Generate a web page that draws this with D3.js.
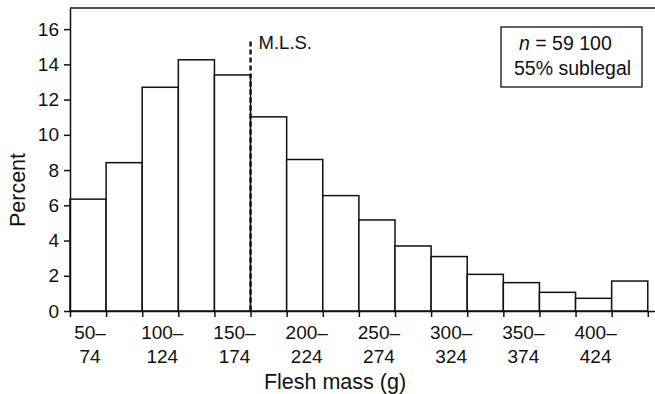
<!DOCTYPE html>
<html>
<head>
<meta charset="utf-8">
<script src="https://cdn.jsdelivr.net/npm/d3@7"></script>
<style>
  body { margin: 0; background: #fff; }
  text { font-family: "Liberation Sans", Arial, sans-serif; fill: #111; }
</style>
</head>
<body>
<div id="chart"></div>
<script>
// flesh mass bins (g), lower bound of each 25 g class
const binStarts = [50, 75, 100, 125, 150, 175, 200, 225, 250, 275, 300, 325, 350, 375, 400, 425];
const binWidth = 25;
const percents = [6.35, 8.42, 12.7, 14.26, 13.4, 11.02, 8.6, 6.55, 5.17, 3.69, 3.09, 2.08, 1.61, 1.06, 0.72, 1.70];
const binLabels = ["50–74", "", "100–124", "", "150–174", "", "200–224", "", "250–274", "", "300–324", "", "350–374", "", "400–424", ""];
const yTicks = [0, 2, 4, 6, 8, 10, 12, 14, 16];
const mls = 175;        // minimum legal size
const mlsTop = 15.3;    // top of dashed marker
const boxLines = ["n = 59 100", "55% sublegal"];

const width = 655, height = 394;
const margin = { top: 8, left: 70, bottom: 83 };

const svg = d3.select("#chart").append("svg")
  .attr("width", width)
  .attr("height", height);

const x = d3.scaleLinear().domain([50, 455]).range([margin.left, width]);
const y = d3.scaleLinear().domain([0, 17.2]).range([height - margin.bottom, margin.top]);

// bars
svg.selectAll(".bar")
  .data(binStarts)
  .enter()
  .append("rect")
  .attr("class", "bar")
  .attr("x", (d) => x(d))
  .attr("y", (d, i) => y(percents[i]))
  .attr("width", (d) => x(d + binWidth) - x(d))
  .attr("height", (d, i) => y(0) - y(percents[i]))
  .attr("fill", "#fff")
  .attr("stroke", "#111")
  .attr("stroke-width", 1.5);

// M.L.S. marker
svg.append("line")
  .attr("x1", x(mls)).attr("x2", x(mls))
  .attr("y1", y(mlsTop)).attr("y2", y(0))
  .attr("stroke", "#111")
  .attr("stroke-width", 2.4)
  .attr("stroke-dasharray", "5,3");

svg.append("text")
  .attr("x", x(mls) + 8)
  .attr("y", y(mlsTop) + 8)
  .attr("font-size", 18.5)
  .text("M.L.S.");

// axes
const edges = binStarts.concat([binStarts[binStarts.length - 1] + binWidth]);
const xAxis = svg.append("g")
  .attr("transform", `translate(0,${y(0)})`)
  .call(d3.axisBottom(x).tickValues(edges).tickSize(6).tickSizeOuter(0).tickFormat(""));

const yAxis = svg.append("g")
  .attr("transform", `translate(${margin.left},0)`)
  .call(d3.axisLeft(y).tickValues(yTicks).tickSize(6).tickSizeOuter(0).tickPadding(5));

svg.selectAll(".domain, .tick line")
  .attr("stroke", "#111")
  .attr("stroke-width", 1.5);

yAxis.selectAll(".tick text")
  .attr("font-size", 19)
  .attr("font-family", "Liberation Sans, Arial, sans-serif")
  .attr("fill", "#111");

// top frame line
svg.append("line")
  .attr("x1", margin.left).attr("x2", width)
  .attr("y1", y.range()[1]).attr("y2", y.range()[1])
  .attr("stroke", "#111")
  .attr("stroke-width", 1.5);

// x tick labels (two lines, centred under bins)
const lab = svg.selectAll(".xlab")
  .data(binStarts.filter((d, i) => binLabels[i] !== ""))
  .enter()
  .append("text")
  .attr("class", "xlab")
  .attr("text-anchor", "middle")
  .attr("font-size", 19);

lab.each(function (d) {
  const parts = binLabels[binStarts.indexOf(d)].split("–");
  const cx = x(d + binWidth / 2) + 2;
  d3.select(this).append("tspan").attr("x", cx).attr("y", y(0) + 28).text(parts[0] + "–");
  d3.select(this).append("tspan").attr("x", cx).attr("y", y(0) + 52).text(parts[1]);
});

// axis titles
svg.append("text")
  .attr("x", 335)
  .attr("y", 389)
  .attr("text-anchor", "middle")
  .attr("font-size", 21.5)
  .text("Flesh mass (g)");

svg.append("text")
  .attr("transform", "translate(25,190) rotate(-90)")
  .attr("text-anchor", "middle")
  .attr("font-size", 21.5)
  .text("Percent");

// info box
svg.append("rect")
  .attr("x", 501).attr("y", 27)
  .attr("width", 141).attr("height", 60)
  .attr("fill", "#fff")
  .attr("stroke", "#111")
  .attr("stroke-width", 1.3);

const l1 = svg.append("text").attr("x", 519).attr("y", 50).attr("font-size", 19.5);
l1.append("tspan").attr("font-style", "italic").text(boxLines[0].split(" ")[0]);
l1.append("tspan").text(" " + boxLines[0].split(" ").slice(1).join(" "));

svg.append("text")
  .attr("x", 514).attr("y", 75)
  .attr("font-size", 19.5)
  .text(boxLines[1]);
</script>
</body>
</html>
